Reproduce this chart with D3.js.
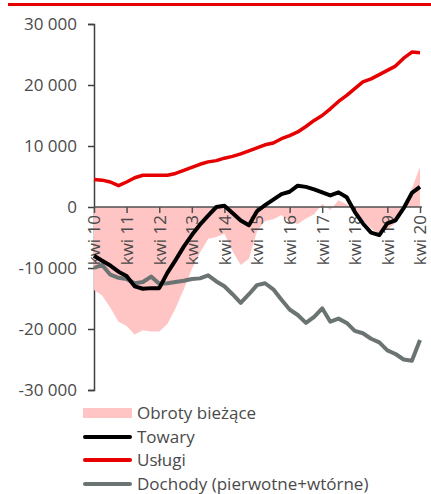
<!DOCTYPE html>
<meta charset="utf-8">
<head>
<style>
body { margin: 0; background: #fff; }
text { font-family: "Open Sans", sans-serif; fill: #4a4a4a; }
</style>
</head>
<body>
<div id="chart"></div>
<script src="https://cdn.jsdelivr.net/npm/d3@7"></script>
<script>

// quarterly points, Apr 2010 .. Apr 2020 (mln EUR, 12m sums)
var quarters = d3.timeMonth.every(3).range(new Date(2010, 3, 1), new Date(2020, 4, 1));

var obroty = [-13600, -14500, -16500, -18800, -19500, -20900, -20200, -20400, -20400, -19200,
  -16600, -13500, -10200, -7500, -5200, -4900, -4400, -7200, -9500, -8500,
  -4000, -2300, -2000, -1300, -2400, -2800, -1900, -1200, 500, -500,
  1100, 400, -700, -2200, -3500, -4500, -3700, -2600, -500, 3000, 6600];

var towary = [-8000, -8800, -9600, -10600, -11300, -13000, -13400, -13300, -13300, -10800,
  -8700, -6500, -4600, -2900, -1400, 0, 200, -1000, -2200, -3000,
  -700, 300, 1200, 2100, 2500, 3500, 3300, 2900, 2400, 1900,
  2400, 1600, -800, -2700, -4200, -4600, -2700, -2200, -200, 2300, 3300];

var uslugi = [4500, 4400, 4100, 3500, 4100, 4800, 5200, 5200, 5200, 5200,
  5500, 6000, 6500, 7000, 7400, 7600, 8000, 8300, 8700, 9200,
  9700, 10200, 10500, 11200, 11700, 12300, 13200, 14200, 15000, 16100,
  17300, 18300, 19400, 20500, 21000, 21700, 22400, 23100, 24400, 25400, 25300];

var dochody = [-10000, -9500, -11100, -11600, -11800, -12500, -12300, -11400, -12600, -12500,
  -12300, -12100, -11800, -11700, -11200, -12200, -13000, -14300, -15700, -14300,
  -12800, -12500, -13500, -15200, -16800, -17700, -19000, -18000, -16600, -18800,
  -18300, -19000, -20300, -20700, -21600, -22200, -23500, -24100, -25000, -25200, -21800];

var yTicks = [-30000, -20000, -10000, 0, 10000, 20000, 30000];
var legendLabels = ["Obroty bieżące", "Towary", "Usługi", "Dochody (pierwotne+wtórne)"];
var colors = { obroty: "#ffc4c4", towary: "#000000", uslugi: "#e60000", dochody: "#6b7373" };

var width = 431, height = 494;

var svg = d3.select("#chart").append("svg")
    .attr("width", width)
    .attr("height", height);

// red bar at the top
svg.append("rect")
    .attr("x", 8).attr("y", 3)
    .attr("width", 423).attr("height", 3)
    .attr("fill", "#e60000");

var x = d3.scaleTime()
    .domain([new Date(2010, 3, 1), new Date(2020, 3, 1)])
    .range([94, 420]);

var y = d3.scaleLinear()
    .domain([-30000, 30000])
    .range([390, 24]);

var fmt = function(d) { return d3.format(",")(d).replace(/,/g, " ").replace("−", "-"); };

// y axis
var yAxis = svg.append("g")
    .attr("transform", "translate(94,0)")
    .call(d3.axisLeft(y).tickValues(yTicks).tickSize(6).tickPadding(11).tickFormat(fmt));
yAxis.select(".domain").attr("stroke", "#404040").attr("stroke-width", 1.5);
yAxis.selectAll(".tick line").attr("stroke", "#404040").attr("stroke-width", 1.5);
yAxis.selectAll("text").style("font-size", "17px").attr("fill", "#4a4a4a");

// area
var area = d3.area()
    .x(function(d, i) { return x(quarters[i]); })
    .y0(y(0))
    .y1(function(d) { return y(d); });

svg.append("path")
    .datum(obroty)
    .attr("d", area)
    .attr("fill", colors.obroty);

// x axis at zero
var xAxis = svg.append("g")
    .attr("transform", "translate(0," + y(0) + ")")
    .call(d3.axisBottom(x)
      .tickValues(d3.range(2010, 2021).map(function(yr) { return new Date(yr, 3, 1); }))
      .tickSize(6)
      .tickFormat(function(d) { return "kwi " + d3.timeFormat("%y")(d); }));
xAxis.select(".domain").attr("stroke", "#505050").attr("stroke-width", 1.5).attr("d", "M94,0H422");
xAxis.selectAll(".tick line").attr("stroke", "#505050").attr("stroke-width", 1.5);
xAxis.selectAll("text")
    .style("font-size", "17px")
    .attr("fill", "#4a4a4a")
    .attr("text-anchor", "end")
    .attr("transform", "rotate(-90)")
    .attr("x", -8)
    .attr("y", 0)
    .attr("dy", "0.35em");

var line = d3.line()
    .x(function(d, i) { return x(quarters[i]); })
    .y(function(d) { return y(d); });

[[dochody, colors.dochody, 4], [uslugi, colors.uslugi, 3.5], [towary, colors.towary, 4]].forEach(function(s) {
  svg.append("path")
      .datum(s[0])
      .attr("d", line)
      .attr("fill", "none")
      .attr("stroke", s[1])
      .attr("stroke-width", s[2])
      .attr("stroke-linejoin", "round");
});

// legend
var legend = svg.append("g");
var rowY = [413, 437, 460, 484];
legendLabels.forEach(function(lbl, i) {
  if (i === 0) {
    legend.append("rect")
        .attr("x", 83).attr("y", rowY[i] - 5)
        .attr("width", 49).attr("height", 10)
        .attr("fill", colors.obroty);
  } else {
    legend.append("line")
        .attr("x1", 85).attr("x2", 130)
        .attr("y1", rowY[i]).attr("y2", rowY[i])
        .attr("stroke", [null, colors.towary, colors.uslugi, colors.dochody][i])
        .attr("stroke-width", 4)
        .attr("stroke-linecap", "round");
  }
  legend.append("text")
      .attr("x", 137)
      .attr("y", rowY[i])
      .attr("dy", "0.36em")
      .style("font-size", "17px")
      .text(lbl);
});

</script>
</body>
